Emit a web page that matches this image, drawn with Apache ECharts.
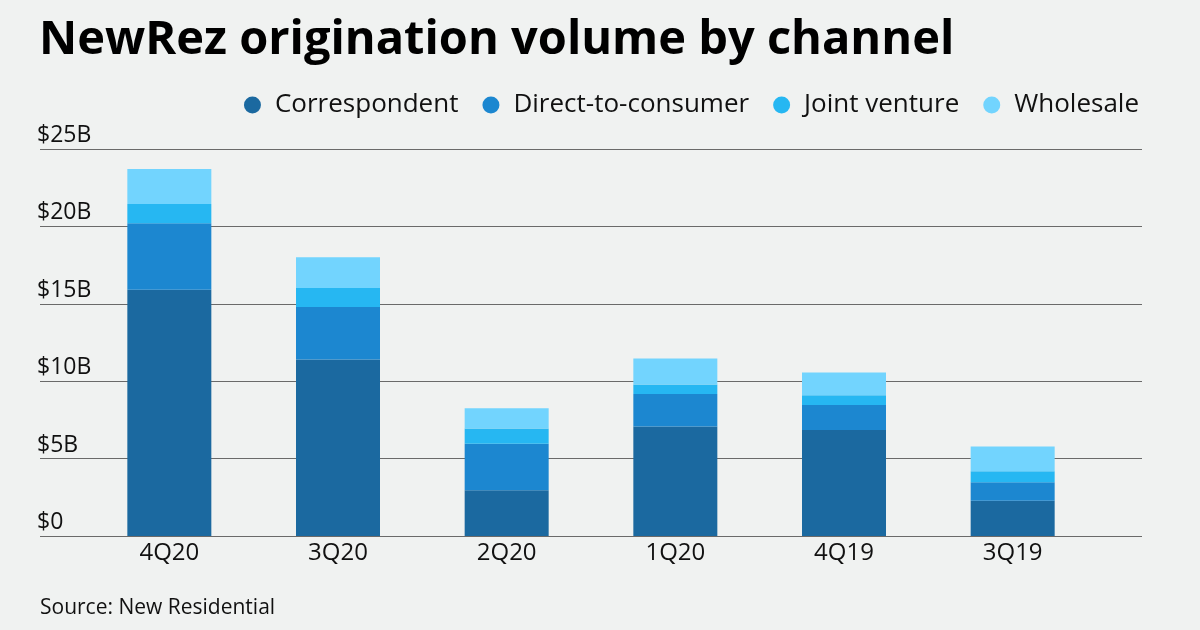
<!DOCTYPE html>
<html>
<head>
<meta charset="utf-8">
<script src="https://cdn.jsdelivr.net/npm/echarts@6/dist/echarts.min.js"></script>
<style>
html,body{margin:0;padding:0;background:#f0f2f1;}
#c{width:1200px;height:630px;}
</style>
</head>
<body>
<div id="c"></div>
<script>
const categories = ['4Q20','3Q20','2Q20','1Q20','4Q19','3Q19'];
const correspondent = [15.9, 11.4, 2.96, 7.07, 6.85, 2.27];
const directToConsumer = [4.3, 3.4, 3.0, 2.1, 1.61, 1.21];
const jointVenture = [1.25, 1.22, 0.99, 0.62, 0.63, 0.71];
const wholesale = [2.25, 1.98, 1.31, 1.68, 1.48, 1.59];
const seriesNames = ['Correspondent','Direct-to-consumer','Joint venture','Wholesale'];
const yTickValues = [0, 5, 10, 15, 20, 25];
const yTickLabels = ['$0','$5B','$10B','$15B','$20B','$25B'];

const colors = ['#1b69a0','#1c87d0','#26b7f2','#72d4fe'];
const FONT = '"Open Sans", "Noto Sans", sans-serif';
const chart = echarts.init(document.getElementById('c'));
const gridTop = 149, gridBottom = 630 - 536;
const values = [correspondent, directToConsumer, jointVenture, wholesale];

chart.setOption({
  backgroundColor: '#f0f2f1',
  animation: false,
  title: [
    {text: 'NewRez origination volume by channel', left: 34, top: 12,
     textStyle: {fontFamily: FONT, fontSize: 47, fontWeight: 'bold', color: '#000'}},
    {text: 'Source: New Residential', left: 35, top: 593,
     textStyle: {fontFamily: FONT, fontSize: 21, fontWeight: 'normal', color: '#111'}}
  ],
  legend: {
    right: 56, top: 87, icon: 'circle', itemWidth: 17, itemHeight: 17, itemGap: 24,
    data: seriesNames,
    textStyle: {fontFamily: FONT, fontSize: 26, color: '#111', padding: [0,0,0,9]}
  },
  grid: [
    {left: 40, right: 58, top: gridTop, bottom: gridBottom},
    {left: 85, right: 103, top: gridTop, bottom: gridBottom}
  ],
  xAxis: [
    {gridIndex: 0, type: 'value', show: false, min: 0, max: 1},
    {gridIndex: 1, type: 'category', data: categories,
     axisLine: {show: false}, axisTick: {show: false},
     axisLabel: {fontFamily: FONT, fontSize: 24, color: '#111', margin: 5}}
  ],
  yAxis: [
    {gridIndex: 0, type: 'value', min: 0, max: 25, interval: 5,
     axisLine: {show: false}, axisTick: {show: false},
     splitLine: {lineStyle: {color: '#6a6a6a', width: 1.2}},
     axisLabel: {inside: true, margin: -3, verticalAlign: 'bottom', align: 'left',
       padding: [0,0,2,0], fontFamily: FONT, fontSize: 23, color: '#111',
       formatter: v => yTickLabels[yTickValues.indexOf(v)]}},
    {gridIndex: 1, type: 'value', min: 0, max: 25, interval: 5, show: false}
  ],
  series: seriesNames.map((n, i) => ({
    name: n, type: 'bar', stack: 'total', xAxisIndex: 1, yAxisIndex: 1,
    barWidth: 84, data: values[i], itemStyle: {color: colors[i]}
  }))
});
</script>
</body>
</html>
